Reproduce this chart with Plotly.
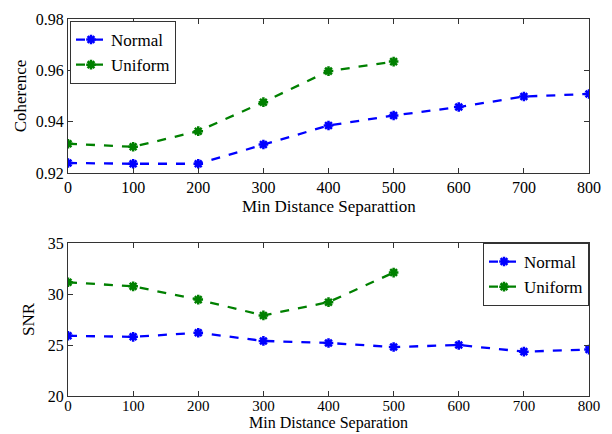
import plotly.graph_objects as go

# Minimum distance separation values (x axis)
sep_normal = [0, 100, 200, 300, 400, 500, 600, 700, 800]
sep_uniform = [0, 100, 200, 300, 400, 500]

# Coherence results
coh_normal = [0.9239, 0.9236, 0.9236, 0.9311, 0.9385, 0.9424, 0.9457, 0.9498, 0.9508]
coh_uniform = [0.9314, 0.9302, 0.9363, 0.9476, 0.9597, 0.9634]

# SNR results
snr_normal = [25.9, 25.8, 26.2, 25.4, 25.2, 24.8, 25.0, 24.35, 24.55]
snr_uniform = [31.15, 30.75, 29.45, 27.9, 29.2, 32.1]

x_ticks = [0, 100, 200, 300, 400, 500, 600, 700, 800]
coh_ticks = [0.92, 0.94, 0.96, 0.98]
snr_ticks = [20, 25, 30, 35]

BLUE = "#0000FF"
GREEN = "#008000"
FONT = "Times New Roman"


def series(x, y, name, color, xa, ya, legend):
    return go.Scatter(
        x=x, y=y, name=name, mode="lines+markers",
        xaxis=xa, yaxis=ya, legend=legend, showlegend=True,
        line=dict(color=color, width=2.3, dash="dash"),
        marker=dict(symbol="asterisk-open", size=8, color=color,
                    line=dict(color=color, width=2.5)),
    )


fig = go.Figure()
fig.add_trace(series(sep_normal, coh_normal, "Normal", BLUE, "x", "y", "legend"))
fig.add_trace(series(sep_uniform, coh_uniform, "Uniform", GREEN, "x", "y", "legend"))
fig.add_trace(series(sep_normal, snr_normal, "Normal", BLUE, "x2", "y2", "legend2"))
fig.add_trace(series(sep_uniform, snr_uniform, "Uniform", GREEN, "x2", "y2", "legend2"))

axis_common = dict(
    showgrid=False, zeroline=False, showline=True, linecolor="#333333",
    linewidth=1, mirror="ticks", ticks="inside", ticklen=5, tickcolor="#333333",
    automargin=False,
)

tick_font = dict(family=FONT, size=16, color="black")
x2_tick_font = dict(family=FONT, size=15, color="black")
x_dom = [68 / 612, 589 / 612]
x_mid = (x_dom[0] + x_dom[1]) / 2
title_font = dict(family=FONT, size=17, color="black")
bottom_title_font = dict(family=FONT, size=16, color="black")
legend_font = dict(family=FONT, size=17, color="black")
fig.update_layout(
    width=612, height=434,
    margin=dict(l=0, r=0, t=0, b=0),
    paper_bgcolor="white", plot_bgcolor="white",
    font=dict(family=FONT, color="black"),
    xaxis=dict(domain=x_dom, range=[0, 800], tickvals=x_ticks, anchor="y",
               tickfont=tick_font, **axis_common),
    yaxis=dict(domain=[1 - 173 / 434, 1 - 19 / 434], range=[0.92, 0.98],
               tickvals=coh_ticks, tickformat=".2f", anchor="x",
               tickfont=tick_font,
               title=dict(text="Coherence", standoff=4, font=title_font),
               **axis_common),
    xaxis2=dict(domain=x_dom, range=[0, 800], tickvals=x_ticks, anchor="y2",
                ticklabelstandoff=-4, tickfont=x2_tick_font, **axis_common),
    yaxis2=dict(domain=[1 - 396 / 434, 1 - 243 / 434], range=[20, 35],
                tickvals=snr_ticks, anchor="x2", tickfont=tick_font,
                title=dict(text="SNR", standoff=8, font=title_font),
                **axis_common),
    legend=dict(x=70 / 612, y=1 - 21 / 434, xanchor="left", yanchor="top",
                bgcolor="white", bordercolor="#333333", borderwidth=1,
                font=legend_font, tracegroupgap=0, itemwidth=30),
    legend2=dict(x=589 / 612, y=1 - 243 / 434, xanchor="right", yanchor="top",
                 bgcolor="white", bordercolor="#333333", borderwidth=1,
                 font=legend_font, tracegroupgap=0, itemwidth=30),
    annotations=[
        dict(text="Min Distance Separattion", x=x_mid, y=1 - 195 / 434,
             xref="paper", yref="paper", xanchor="center", yanchor="top",
             showarrow=False, font=title_font),
        dict(text="Min Distance Separation", x=x_mid, y=0,
             xref="paper", yref="paper", xanchor="center", yanchor="bottom",
             showarrow=False, font=bottom_title_font),
    ],
)

fig.write_html("out.html")
